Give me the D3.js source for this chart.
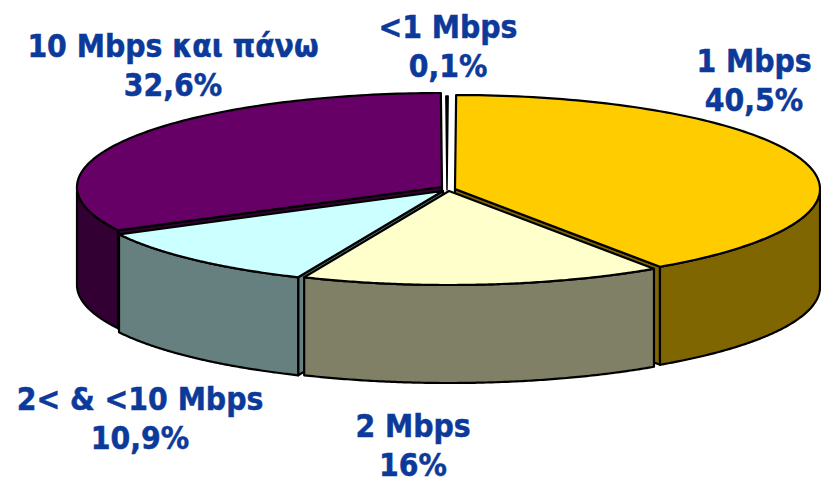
<!DOCTYPE html>
<html><head><meta charset="utf-8">
<script src="https://cdn.jsdelivr.net/npm/d3@7/dist/d3.min.js"></script>
<style>html,body{margin:0;padding:0;background:#fff}svg{display:block}</style></head>
<body><svg id="c" width="821" height="477"></svg>
<script>
const categories=["1 Mbps","2 Mbps","2< & <10 Mbps","10 Mbps και πάνω","<1 Mbps"];
const values=[40.5,16,10.9,32.6,0.1];
const valueLabels=["40,5%","16%","10,9%","32,6%","0,1%"];
const colorsTop=["#ffcc00","#ffffcc","#ccffff","#660066","#000000"];
const colorsSide=["#806600","#808066","#668080","#330033","#000000"];
const labelX=[754,413,140,173,448];
const labelY=[72,437,410,57,38];
const centersX=[455,449,443,442,447];
const centersY=[189,191,191,187,190];

const svg=d3.select("#c");
const rx=365,ry=94,depth=98;
const tilt=0.00314;
const pie=d3.pie().sort(null).startAngle(tilt).endAngle(2*Math.PI+tilt).value((d,i)=>values[i]);
const arcs=pie(categories);
const N=120;
const rim=(a0,a1,i,dy)=>d3.range(N+1).map(k=>{
  const a=a0+(a1-a0)*k/N;
  return [centersX[i]+rx*Math.sin(a),centersY[i]-ry*Math.cos(a)+dy];
});
const line=d3.line();
const sw=2.2;
const styled=(sel,fill,w)=>sel.attr("fill",fill).attr("stroke","#000").attr("stroke-width",w).attr("stroke-linejoin","round");
const order=[3,4,2,0,1];
order.forEach(i=>{
  const d=arcs[i],ctr=[centersX[i],centersY[i]];
  const top=rim(d.startAngle,d.endAngle,i,0);
  if(i!==4){
    const faces=[];
    if(d.startAngle>Math.PI) faces.push(d.startAngle);
    if(d.endAngle<Math.PI) faces.push(d.endAngle);
    faces.forEach(a=>{
      const p=rim(a,a,i,0)[0];
      styled(svg.append("path").attr("d",line([ctr,p,[p[0],p[1]+depth],[ctr[0],ctr[1]+depth]])+"Z"),colorsSide[i],sw);
    });
    const a0=Math.max(d.startAngle,Math.PI/2),a1=Math.min(d.endAngle,3*Math.PI/2);
    if(a1>a0){
      const u=rim(a0,a1,i,0),l=rim(a0,a1,i,depth).reverse();
      styled(svg.append("path").attr("d",line(u.concat(l))+"Z"),colorsSide[i],sw);
    }
  }
  styled(svg.append("path").attr("d",line([ctr].concat(top))+"Z"),colorsTop[i],i===4?1.5:sw);
});
categories.forEach((c,i)=>{
  const t=svg.append("text").attr("text-anchor","middle")
    .attr("font-family","'DejaVu Sans Condensed','DejaVu Sans',sans-serif").attr("font-weight","bold")
    .attr("font-size",31.5).attr("fill","#0c3a9a").attr("stroke","#0c3a9a").attr("stroke-width",0.5);
  t.append("tspan").attr("x",labelX[i]).attr("y",labelY[i]).text(c);
  t.append("tspan").attr("x",labelX[i]).attr("y",labelY[i]+39).text(valueLabels[i]);
});
</script></body></html>
